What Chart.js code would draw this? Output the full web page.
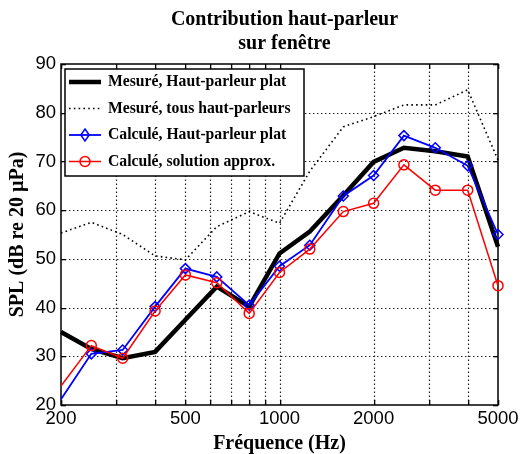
<!DOCTYPE html>
<html>
<head>
<meta charset="utf-8">
<script src="https://cdn.jsdelivr.net/npm/chart.js@4/dist/chart.umd.min.js"></script>
<style>
  body { margin: 0; background: #fff; }
</style>
</head>
<body>
<canvas id="myChart" width="522" height="454"></canvas>
<script>
const freqs = [200, 250, 315, 400, 500, 630, 800, 1000, 1250, 1600, 2000, 2500, 3150, 4000, 5000];
const mesurePlat = [35.0, 31.5, 29.6, 30.9, 37.5, 44.3, 40.2, 51.1, 55.6, 63.0, 69.9, 72.8, 72.1, 71.0, 52.5];
const mesureTous = [55.3, 57.5, 55.0, 50.6, 49.8, 56.6, 59.7, 57.3, 68.0, 77.1, 79.2, 81.6, 81.6, 84.7, 70.3];
const calculePlat = [21.2, 30.5, 31.3, 40.2, 48.0, 46.3, 40.5, 48.5, 52.8, 62.9, 67.1, 75.3, 72.8, 69.1, 55.0];
const calculeApprox = [23.9, 32.2, 29.6, 39.3, 46.7, 45.1, 38.8, 47.2, 52.0, 59.7, 61.4, 69.3, 64.1, 64.1, 44.5];

const xTicks = [200, 300, 400, 500, 600, 700, 800, 900, 1000, 2000, 3000, 4000, 5000];
const xLabels = [200, 500, 1000, 2000, 5000];
const yTicks = [20, 30, 40, 50, 60, 70, 80, 90];
const seriesNames = [
    'Mesuré, Haut-parleur plat',
    'Mesuré, tous haut-parleurs',
    'Calculé, Haut-parleur plat',
    'Calculé, solution approx.'
];
const titleLines = ['Contribution haut-parleur', 'sur fenêtre'];

const toXY = ys => freqs.map((f, i) => ({x: f, y: ys[i]}));
const noFirst = r => ctx => ctx.dataIndex === 0 ? 0 : r;

// dotted grid, frame and matlab-style inner ticks
const frame = {
    id: 'frame',
    beforeDatasetsDraw(chart) {
        const {ctx, chartArea: a} = chart;
        const sx = chart.scales.x, sy = chart.scales.y;
        ctx.save();
        ctx.strokeStyle = '#222';
        ctx.lineWidth = 1.2;
        ctx.setLineDash([1.4, 2.6]);
        ctx.beginPath();
        xTicks.slice(1, -1).forEach(v => {
            const px = Math.round(sx.getPixelForValue(v)) + 0.5;
            ctx.moveTo(px, a.bottom);
            ctx.lineTo(px, a.top);
        });
        yTicks.slice(1, -1).forEach(v => {
            const py = Math.round(sy.getPixelForValue(v)) + 0.5;
            ctx.moveTo(a.left, py);
            ctx.lineTo(a.right, py);
        });
        ctx.stroke();
        ctx.setLineDash([]);
        ctx.fillStyle = '#000';
        xTicks.forEach(v => {
            const px = Math.round(sx.getPixelForValue(v));
            ctx.fillRect(px, a.bottom - 5, 1.3, 5);
            ctx.fillRect(px, a.top, 1.3, 5);
        });
        yTicks.forEach(v => {
            const py = Math.round(sy.getPixelForValue(v));
            ctx.fillRect(a.left, py, 5, 1.3);
            ctx.fillRect(a.right - 5, py, 5, 1.3);
        });
        ctx.strokeStyle = '#000';
        ctx.lineWidth = 1.5;
        ctx.strokeRect(a.left, a.top, a.right - a.left, a.bottom - a.top);
        ctx.restore();
    }
};

// title and legend box
const annot = {
    id: 'annot',
    afterDraw(chart) {
        const {ctx, chartArea: a} = chart;
        ctx.save();
        ctx.fillStyle = '#000';
        ctx.textAlign = 'center';
        ctx.textBaseline = 'middle';
        ctx.font = 'bold 20px "Liberation Serif"';
        const cx = (a.left + a.right) / 2 + 5;
        ctx.fillText(titleLines[0], cx, 20);
        ctx.fillText(titleLines[1], cx, 44);

        const bx = a.left + 4, by = a.top + 5, bw = 239, bh = 107;
        ctx.fillStyle = '#fff';
        ctx.fillRect(bx, by, bw, bh);
        ctx.strokeStyle = '#000';
        ctx.lineWidth = 1.5;
        ctx.strokeRect(bx, by, bw, bh);

        ctx.font = 'bold 15.7px "Liberation Serif"';
        ctx.textAlign = 'left';
        chart.data.datasets.forEach((ds, i) => {
            const y = by + 13 + i * 26.5;
            const x0 = bx + 4, x1 = bx + 36;
            ctx.save();
            ctx.strokeStyle = ds.borderColor;
            ctx.lineWidth = ds.borderWidth;
            ctx.setLineDash(ds.borderDash || []);
            ctx.beginPath();
            ctx.moveTo(x0, y);
            ctx.lineTo(x1, y);
            ctx.stroke();
            ctx.restore();
            if (ds.legendMarker) {
                ctx.save();
                ctx.strokeStyle = ds.borderColor;
                ctx.lineWidth = 1.5;
                ctx.beginPath();
                const mx = (x0 + x1) / 2, r = 6;
                if (ds.pointStyle === 'rectRot') {
                    ctx.moveTo(mx, y - r); ctx.lineTo(mx + r * 0.7, y);
                    ctx.lineTo(mx, y + r); ctx.lineTo(mx - r * 0.7, y); ctx.closePath();
                } else {
                    ctx.arc(mx, y, 5, 0, Math.PI * 2);
                }
                ctx.stroke();
                ctx.restore();
            }
            ctx.fillStyle = '#000';
            ctx.fillText(seriesNames[i], x1 + 7, y);
        });
        ctx.restore();
    }
};

const tickFont = {family: 'Liberation Sans', size: 18.5};
const labelFont = {family: 'Liberation Serif', size: 20, weight: 'bold', lineHeight: 1};

const config = {
    type: 'line',
    data: {
        datasets: [{
            label: seriesNames[0],
            data: toXY(mesurePlat),
            borderColor: '#000',
            borderWidth: 4.5,
            pointRadius: 0,
            order: 4
        }, {
            label: seriesNames[1],
            data: toXY(mesureTous),
            borderColor: '#000',
            borderWidth: 1.6,
            borderDash: [1.6, 3.2],
            pointRadius: 0,
            order: 3
        }, {
            label: seriesNames[2],
            data: toXY(calculePlat),
            borderColor: '#0000ff',
            borderWidth: 1.8,
            pointStyle: 'rectRot',
            legendMarker: true,
            pointRadius: noFirst(5),
            pointBorderWidth: 1.5,
            pointBackgroundColor: 'rgba(0,0,0,0)',
            order: 2
        }, {
            label: seriesNames[3],
            data: toXY(calculeApprox),
            borderColor: '#ff0000',
            borderWidth: 1.5,
            pointStyle: 'circle',
            legendMarker: true,
            pointRadius: noFirst(5),
            pointBorderWidth: 1.5,
            pointBackgroundColor: 'rgba(0,0,0,0)',
            order: 1
        }]
    },
    options: {
        responsive: false,
        animation: false,
        clip: false,
        layout: {padding: {top: 64, right: 24, left: 0, bottom: 0}},
        elements: {line: {tension: 0}},
        plugins: {
            legend: {display: false},
            title: {display: false},
            tooltip: {enabled: false}
        },
        scales: {
            x: {
                type: 'logarithmic',
                min: 200,
                max: 5000,
                afterBuildTicks: s => { s.ticks = xTicks.map(v => ({value: v})); },
                afterFit: s => { s.height = 49; },
                ticks: {
                    autoSkip: false,
                    maxRotation: 0,
                    padding: 3,
                    color: '#000',
                    font: tickFont,
                    callback: v => xLabels.includes(v) ? String(v) : ''
                },
                grid: {display: false, drawTicks: false},
                border: {display: false},
                title: {display: true, text: 'Fréquence (Hz)', color: '#000', font: labelFont, padding: {top: 0, bottom: 0}}
            },
            y: {
                min: 20,
                max: 90,
                afterBuildTicks: s => { s.ticks = yTicks.map(v => ({value: v})); },
                afterFit: s => { s.width = 61; },
                ticks: {
                    padding: 5,
                    color: '#000',
                    font: tickFont
                },
                grid: {display: false, drawTicks: false},
                border: {display: false},
                title: {display: true, text: 'SPL (dB re 20 µPa)', color: '#000', font: labelFont, padding: {top: 8, bottom: 0}}
            }
        }
    },
    plugins: [frame, annot]
};

const myChart = new Chart(document.getElementById('myChart'), config);
</script>
</body>
</html>
